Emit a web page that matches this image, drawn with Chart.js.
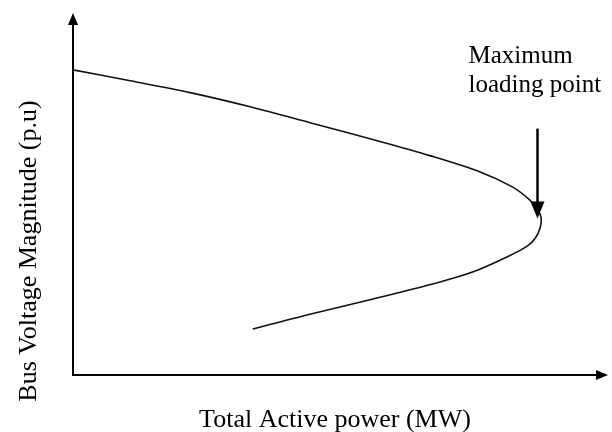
<!DOCTYPE html>
<html>
<head>
<meta charset="utf-8">
<script src="https://cdn.jsdelivr.net/npm/chart.js@4/dist/chart.umd.min.js"></script>
<style>
    html, body { margin: 0; padding: 0; background: #fff; }
    canvas { display: block; }
</style>
</head>
<body>
<canvas id="chart" width="612" height="432"></canvas>
<script>
// P-V nose curve (P on a 0-100 scale, V on 0-1)
var upperP = [0, 10.7, 21.9, 33.1, 44.3, 57.4, 66.7, 76.1, 82.2, 85.4, 86.9, 87.5];
var upperV = [0.843, 0.813, 0.780, 0.741, 0.697, 0.645, 0.606, 0.561, 0.519, 0.483, 0.456, 0.434];
var lowerP = [87.3, 86.4, 84.9, 81.1, 74.8, 68.6, 56.1, 43.7, 33.6];
var lowerV = [0.406, 0.378, 0.356, 0.326, 0.285, 0.257, 0.210, 0.166, 0.127];
var noseP = 86.8, noseV = 0.432;

var xTitle = 'Total Active power (MW)';
var yTitle = 'Bus Voltage Magnitude (p.u)';
var noteLines = ['Maximum', 'loading point'];

(function() {
    var points = upperP.map(function(p, i) {
        return {x: p, y: upperV[i]};
    }).concat(lowerP.map(function(p, i) {
        return {x: p, y: lowerV[i]};
    }));

    var arrowHead = function(ctx, x, y, dir, len, half) {
        // dir: 'up' | 'right' | 'down'
        ctx.beginPath();
        if (dir === 'up') {
            ctx.moveTo(x, y);
            ctx.lineTo(x - half, y + len);
            ctx.lineTo(x + half, y + len);
        } else if (dir === 'right') {
            ctx.moveTo(x, y);
            ctx.lineTo(x - len, y - half);
            ctx.lineTo(x - len, y + half);
        } else {
            ctx.moveTo(x, y);
            ctx.lineTo(x - half, y - len);
            ctx.lineTo(x + half, y - len);
        }
        ctx.closePath();
        ctx.fill();
    };

    var decorations = {
        id: 'decorations',
        afterDraw: function(chart) {
            var ctx = chart.ctx,
                area = chart.chartArea,
                xs = chart.scales.x,
                ys = chart.scales.y,
                left = area.left,
                bottom = area.bottom;

            ctx.save();
            ctx.fillStyle = '#000';
            ctx.strokeStyle = '#000';

            // axes with arrow heads
            ctx.lineWidth = 2;
            ctx.beginPath();
            ctx.moveTo(left, bottom);
            ctx.lineTo(left, area.top + 10);
            ctx.moveTo(left - 1, bottom);
            ctx.lineTo(area.right - 10, bottom);
            ctx.stroke();
            arrowHead(ctx, left, area.top, 'up', 12, 5);
            arrowHead(ctx, area.right, bottom, 'right', 12, 5);

            // maximum loading point arrow
            var ax = Math.round(xs.getPixelForValue(noseP)) + 0.5,
                ay = ys.getPixelForValue(noseV);
            ctx.lineWidth = 2.5;
            ctx.beginPath();
            ctx.moveTo(ax, ay - 90);
            ctx.lineTo(ax, ay - 12);
            ctx.stroke();
            arrowHead(ctx, ax, ay, 'down', 17, 7);

            // texts
            ctx.font = '25px "Liberation Serif", "Times New Roman", serif';
            ctx.textAlign = 'left';
            ctx.textBaseline = 'alphabetic';
            ctx.fillText(noteLines[0], ax - 69, 63);
            ctx.fillText(noteLines[1], ax - 69, 92);

            ctx.font = '26px "Liberation Serif", "Times New Roman", serif';
            ctx.textAlign = 'center';
            ctx.fillText(xTitle, 335, 427);

            ctx.translate(36, 251);
            ctx.rotate(-Math.PI / 2);
            ctx.fillText(yTitle, 0, 0);
            ctx.restore();
        }
    };

    new Chart(document.getElementById('chart'), {
        type: 'scatter',
        data: {
            datasets: [{
                label: 'PV curve',
                data: points,
                showLine: true,
                fill: false,
                borderColor: '#111',
                borderWidth: 1.6,
                tension: 0.3,
                pointRadius: 0
            }]
        },
        options: {
            responsive: false,
            animation: false,
            devicePixelRatio: 1,
            layout: {
                padding: {left: 73, right: 4, top: 13, bottom: 57}
            },
            plugins: {
                legend: {display: false},
                tooltip: {enabled: false}
            },
            scales: {
                x: {display: false, type: 'linear', min: 0, max: 100},
                y: {display: false, min: 0, max: 1}
            }
        },
        plugins: [decorations]
    });
}());
</script>
</body>
</html>
